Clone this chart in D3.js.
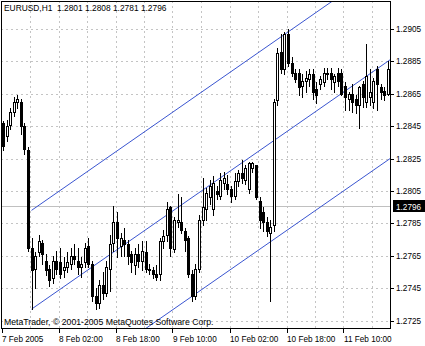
<!DOCTYPE html>
<html>
<head>
<meta charset="utf-8">
<script src="https://cdn.jsdelivr.net/npm/d3@7"></script>
<style>
body { margin: 0; background: #fff; }
svg { display: block; font-family: "Liberation Sans", Arial, sans-serif; }
</style>
</head>
<body>
<div id="chart"></div>
<script>
var title = "EURUSD,H1  1.2801 1.2808 1.2781 1.2796";
var copyright = "MetaTrader, \u00a9 2001-2005 MetaQuotes Software Corp.";

// hourly bars, 7 Feb 10:00 .. 11 Feb 14:00
var opens = [1.2847, 1.2839, 1.2846, 1.2854, 1.2860, 1.2860, 1.2845, 1.2830, 1.2770, 1.2757,
  1.2767, 1.2773, 1.2762, 1.2757, 1.2751, 1.2762, 1.2761, 1.2756, 1.2758, 1.2760,
  1.2765, 1.2762, 1.2758, 1.2761, 1.2771, 1.2760, 1.2740, 1.2736, 1.2747, 1.2742,
  1.2757, 1.2773, 1.2786, 1.2771, 1.2775, 1.2772, 1.2766, 1.2759, 1.2766, 1.2762,
  1.2767, 1.2757, 1.2756, 1.2754, 1.2754, 1.2774, 1.2778, 1.2795, 1.2769, 1.2786,
  1.2786, 1.2780, 1.2776, 1.2754, 1.2740, 1.2757, 1.2787, 1.2794, 1.2801, 1.2794,
  1.2805, 1.2802, 1.2810, 1.2809, 1.2806, 1.2802, 1.2811, 1.2816, 1.2812, 1.2806,
  1.2819, 1.2821, 1.2799, 1.2792, 1.2786, 1.2779, 1.2784, 1.2861, 1.2891, 1.2880,
  1.2902, 1.2884, 1.2878, 1.2878, 1.2870, 1.2873, 1.2874, 1.2877, 1.2868, 1.2871,
  1.2872, 1.2878, 1.2878, 1.2872, 1.2878, 1.2878, 1.2870, 1.2862, 1.2865, 1.2862,
  1.2858, 1.2871, 1.2860, 1.2863, 1.2860, 1.2880, 1.2869, 1.2867, 1.2865];
var highs = [1.2848, 1.2849, 1.2856, 1.2863, 1.2864, 1.2862, 1.2847, 1.2832, 1.2776, 1.2767,
  1.2778, 1.2775, 1.2766, 1.2759, 1.2765, 1.2768, 1.2770, 1.2764, 1.2767, 1.2770,
  1.2772, 1.2770, 1.2764, 1.2773, 1.2776, 1.2762, 1.2745, 1.2750, 1.2755, 1.2762,
  1.2778, 1.2796, 1.2792, 1.2779, 1.2782, 1.2775, 1.2768, 1.2770, 1.2772, 1.2774,
  1.2774, 1.2760, 1.2758, 1.2759, 1.2776, 1.2781, 1.2798, 1.2796, 1.2789, 1.2803,
  1.2801, 1.2782, 1.2777, 1.2756, 1.2760, 1.2790, 1.2813, 1.2807, 1.2812, 1.2814,
  1.2808, 1.2816, 1.2817, 1.2815, 1.2808, 1.2816, 1.2818, 1.2824, 1.2821, 1.2823,
  1.2823, 1.2821, 1.2801, 1.2795, 1.2789, 1.2787, 1.2862, 1.2893, 1.2902, 1.2903,
  1.2905, 1.2888, 1.2880, 1.2880, 1.2877, 1.2879, 1.2880, 1.2880, 1.2872, 1.2876,
  1.2881, 1.2881, 1.2881, 1.2877, 1.2881, 1.2880, 1.2872, 1.2866, 1.2871, 1.2864,
  1.2870, 1.2873, 1.2896, 1.2880, 1.2875, 1.2882, 1.2871, 1.2869, 1.2885];
var lows = [1.2830, 1.2836, 1.2843, 1.2851, 1.2856, 1.2840, 1.2828, 1.2768, 1.2732, 1.2745,
  1.2765, 1.2760, 1.2753, 1.2746, 1.2748, 1.2754, 1.2751, 1.2752, 1.2755, 1.2757,
  1.2760, 1.2754, 1.2752, 1.2758, 1.2758, 1.2737, 1.2732, 1.2733, 1.2738, 1.2740,
  1.2743, 1.2768, 1.2764, 1.2765, 1.2765, 1.2760, 1.2755, 1.2754, 1.2758, 1.2756,
  1.2755, 1.2754, 1.2751, 1.2750, 1.2750, 1.2770, 1.2774, 1.2765, 1.2767, 1.2783,
  1.2779, 1.2768, 1.2752, 1.2737, 1.2738, 1.2755, 1.2784, 1.2787, 1.2797, 1.2790,
  1.2800, 1.2800, 1.2806, 1.2803, 1.2798, 1.2800, 1.2808, 1.2810, 1.2809, 1.2804,
  1.2817, 1.2800, 1.2782, 1.2780, 1.2777, 1.2737, 1.2780, 1.2858, 1.2878, 1.2877,
  1.2882, 1.2876, 1.2872, 1.2864, 1.2863, 1.2866, 1.2870, 1.2862, 1.2859, 1.2868,
  1.2870, 1.2874, 1.2868, 1.2866, 1.2870, 1.2864, 1.2855, 1.2855, 1.2854, 1.2853,
  1.2844, 1.2857, 1.2857, 1.2858, 1.2856, 1.2855, 1.2862, 1.2861, 1.2864];
var closes = [1.2833, 1.2845, 1.2854, 1.2860, 1.2862, 1.2845, 1.2831, 1.2770, 1.2756, 1.2765,
  1.2774, 1.2766, 1.2756, 1.2750, 1.2762, 1.2757, 1.2754, 1.2758, 1.2761, 1.2765,
  1.2763, 1.2758, 1.2760, 1.2770, 1.2760, 1.2740, 1.2736, 1.2747, 1.2742, 1.2758,
  1.2772, 1.2786, 1.2776, 1.2776, 1.2772, 1.2765, 1.2761, 1.2766, 1.2762, 1.2768,
  1.2757, 1.2756, 1.2754, 1.2752, 1.2774, 1.2777, 1.2794, 1.2770, 1.2787, 1.2787,
  1.2781, 1.2775, 1.2754, 1.2740, 1.2757, 1.2787, 1.2795, 1.2804, 1.2808, 1.2810,
  1.2803, 1.2812, 1.2813, 1.2806, 1.2802, 1.2811, 1.2816, 1.2813, 1.2819, 1.2822,
  1.2822, 1.2801, 1.2787, 1.2786, 1.2780, 1.2783, 1.2860, 1.2890, 1.2880, 1.2902,
  1.2884, 1.2878, 1.2874, 1.2869, 1.2873, 1.2875, 1.2877, 1.2866, 1.2864, 1.2874,
  1.2878, 1.2877, 1.2874, 1.2876, 1.2873, 1.2865, 1.2863, 1.2865, 1.2860, 1.2858,
  1.2869, 1.2863, 1.2876, 1.2866, 1.2873, 1.2871, 1.2866, 1.2864, 1.2880];

var timeLabels = ["7 Feb 2005", "8 Feb 02:00", "8 Feb 18:00", "9 Feb 10:00", "10 Feb 02:00", "10 Feb 18:00", "11 Feb 10:00"];
var timeLabelBars = [0, 16, 32, 48, 64, 80, 96];
var gridBars = [8, 16, 24, 32, 40, 48, 56, 64, 72, 80, 88, 96, 104];
var priceTicks = [1.2725, 1.2745, 1.2765, 1.2785, 1.2805, 1.2825, 1.2845, 1.2865, 1.2885, 1.2905];
var bidPrice = 1.2796;

// equidistant channel: base line through two points, parallels at +/- width
var channelBars = [8, 108];
var channelPrices = [1.2732, 1.2885];
var channelOffsets = [0.0061, 0, -0.0061];

var w = 425;
var h = 346;
var plotL = 1, plotR = 390, plotT = 1, plotB = 328;

var xScale = d3.scaleLinear().domain([0, 108]).range([3, 387.75]);
var yScale = d3.scaleLinear().domain([1.2725, 1.2905]).range([320.5, 29]);

function px(v) {
  return Math.round(v) + 0.5;
}

var svg = d3.select("#chart").append("svg").attr("width", w).attr("height", h);
svg.append("rect").attr("width", w).attr("height", h).attr("fill", "#fff");

svg.append("clipPath").attr("id", "plot-clip")
  .append("rect")
  .attr("x", plotL).attr("y", plotT)
  .attr("width", plotR - plotL).attr("height", plotB - plotT);

// grid
var grid = svg.append("g")
  .attr("stroke", "#c4c4c4")
  .attr("stroke-dasharray", "2,3")
  .attr("shape-rendering", "crispEdges");
grid.selectAll(".hg").data(priceTicks).enter().append("line")
  .attr("x1", plotL).attr("x2", plotR)
  .attr("y1", function (d) { return px(yScale(d)); })
  .attr("y2", function (d) { return px(yScale(d)); });
grid.selectAll(".vg").data(gridBars).enter().append("line")
  .attr("x1", function (d) { return px(xScale(d) - 1.5); })
  .attr("x2", function (d) { return px(xScale(d) - 1.5); })
  .attr("y1", plotT).attr("y2", plotB);

// bid line
svg.append("line")
  .attr("x1", plotL).attr("x2", plotR)
  .attr("y1", px(yScale(bidPrice))).attr("y2", px(yScale(bidPrice)))
  .attr("stroke", "#c0c0c0")
  .attr("shape-rendering", "crispEdges");

// channel
var slope = (channelPrices[1] - channelPrices[0]) / (channelBars[1] - channelBars[0]);
var lastBar = xScale.invert(plotR);
svg.append("g").attr("clip-path", "url(#plot-clip)")
  .selectAll("line").data(channelOffsets).enter().append("line")
  .attr("x1", xScale(channelBars[0]))
  .attr("y1", function (d) { return yScale(channelPrices[0] + d); })
  .attr("x2", xScale(lastBar))
  .attr("y2", function (d) { return yScale(channelPrices[0] + d + slope * (lastBar - channelBars[0])); })
  .attr("stroke", "#3a55d0")
  .attr("stroke-width", 1);

// candles
var bars = d3.range(opens.length);
var candles = svg.append("g").attr("shape-rendering", "crispEdges").attr("clip-path", "url(#plot-clip)");
candles.selectAll(".wick").data(bars).enter().append("line")
  .attr("x1", function (i) { return Math.round(xScale(i)) + 0.5; })
  .attr("x2", function (i) { return Math.round(xScale(i)) + 0.5; })
  .attr("y1", function (i) { return Math.round(yScale(highs[i])); })
  .attr("y2", function (i) { return Math.round(yScale(lows[i])) + 1; })
  .attr("stroke", "#000");
candles.selectAll(".body").data(bars).enter().append("rect")
  .attr("x", function (i) { return Math.round(xScale(i)) - 0.5; })
  .attr("y", function (i) { return Math.round(yScale(Math.max(opens[i], closes[i]))) + 0.5; })
  .attr("width", 2)
  .attr("height", function (i) {
    return Math.max(0, Math.round(yScale(Math.min(opens[i], closes[i]))) - Math.round(yScale(Math.max(opens[i], closes[i]))));
  })
  .attr("fill", function (i) { return closes[i] >= opens[i] ? "#fff" : "#000"; })
  .attr("stroke", "#000");

// frame
svg.append("rect")
  .attr("x", plotL + 0.5).attr("y", plotT + 0.5)
  .attr("width", plotR - plotL).attr("height", plotB - plotT)
  .attr("fill", "none").attr("stroke", "#000")
  .attr("shape-rendering", "crispEdges");

// price axis
var yAxis = svg.append("g").attr("font-size", 8.2);
yAxis.selectAll("line").data(priceTicks).enter().append("line")
  .attr("x1", plotR).attr("x2", plotR + 4)
  .attr("y1", function (d) { return px(yScale(d)); })
  .attr("y2", function (d) { return px(yScale(d)); })
  .attr("stroke", "#000").attr("shape-rendering", "crispEdges");
yAxis.selectAll("text").data(priceTicks).enter().append("text")
  .attr("x", plotR + 6)
  .attr("y", function (d) { return yScale(d) + 3; })
  .text(function (d) { return d.toFixed(4); });

var by = px(yScale(bidPrice));
svg.append("rect")
  .attr("x", plotR + 3).attr("y", by - 6.5)
  .attr("width", 32).attr("height", 12)
  .attr("fill", "#000");
svg.append("text")
  .attr("x", plotR + 6).attr("y", by + 3)
  .attr("font-size", 8.2).attr("fill", "#fff")
  .text(bidPrice.toFixed(4));

// time axis
var xAxis = svg.append("g").attr("font-size", 8.2);
xAxis.selectAll("line").data(timeLabelBars).enter().append("line")
  .attr("x1", function (d) { return px(xScale(d) - 1.5); })
  .attr("x2", function (d) { return px(xScale(d) - 1.5); })
  .attr("y1", plotB).attr("y2", plotB + 5)
  .attr("stroke", "#000").attr("shape-rendering", "crispEdges");
xAxis.selectAll("text").data(timeLabelBars).enter().append("text")
  .attr("x", function (d) { return xScale(d) - 1; })
  .attr("y", plotB + 14)
  .text(function (d, i) { return timeLabels[i]; });

// title and copyright
svg.append("text")
  .attr("x", 4).attr("y", 10.5)
  .attr("font-size", 8.4)
  .style("white-space", "pre")
  .text(title);
svg.append("text")
  .attr("x", 4).attr("y", 325)
  .attr("font-size", 8.7)
  .text(copyright);
</script>
</body>
</html>
